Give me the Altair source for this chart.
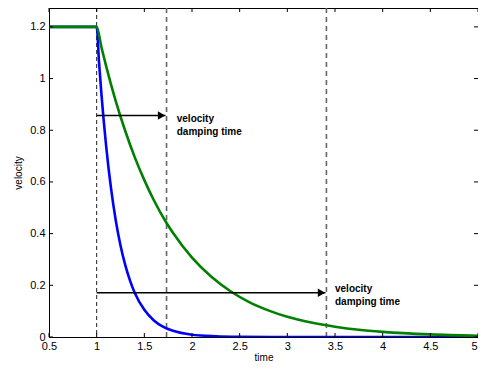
import altair as alt
import pandas as pd

# curve samples
green_t = [0.5, 1.0, 1.05, 1.1, 1.2, 1.3, 1.4, 1.5, 1.6, 1.733, 1.8, 2.0, 2.2, 2.4, 2.6, 2.8, 3.0, 3.25, 3.5, 3.75, 4.0, 4.5, 5.0]
green_v = [1.2, 1.2, 1.121, 1.047, 0.913, 0.797, 0.695, 0.607, 0.529, 0.441, 0.403, 0.307, 0.234, 0.178, 0.135, 0.103, 0.078, 0.056, 0.040, 0.028, 0.020, 0.010, 0.005]
blue_t = [0.5, 1.0, 1.025, 1.05, 1.1, 1.15, 1.2, 1.25, 1.3, 1.35, 1.4, 1.5, 1.6, 1.7, 1.8, 2.0, 2.25, 2.5, 3.0, 4.0, 5.0]
blue_v = [1.2, 1.2, 1.062, 0.940, 0.737, 0.577, 0.452, 0.354, 0.278, 0.218, 0.170, 0.105, 0.064, 0.039, 0.024, 0.009, 0.003, 0.001, 0.0, 0.0, 0.0]

# vertical dashed markers
dash_black_x = [1.0]
dash_grey_x = [1.733, 3.41]

# arrows: start, end, level
arrow_x1 = [1.0, 1.0]
arrow_x2 = [1.722, 3.40]
arrow_y = [0.857, 0.171]

# annotation texts
label_x = [1.84, 3.50]
label_y = [0.843, 0.184]
label_text = [["velocity", "damping time"], ["velocity", "damping time"]]

x_ticks = [0.5, 1, 1.5, 2, 2.5, 3, 3.5, 4, 4.5, 5]
y_ticks = [0, 0.2, 0.4, 0.6, 0.8, 1, 1.2]

W, H = 429, 329
FONT = "Liberation Sans"

green_df = pd.DataFrame({"t": green_t, "v": green_v})
blue_df = pd.DataFrame({"t": blue_t, "v": blue_v})

xs = alt.Scale(domain=[0.5, 5], nice=False, zero=False)
ys = alt.Scale(domain=[0, 1.273], nice=False)

xaxis = alt.Axis(values=x_ticks, tickSize=0, labelFontSize=11, labelFont=FONT, labelColor="#000",
                 labelPadding=3, title="time", titleFontSize=10, titleFont=FONT, titleFontWeight="normal",
                 titleColor="#000", titlePadding=1, domainColor="#000", grid=False, labelFlush=False,
                 format="~g",
                 labelAlign={"condition": {"test": "datum.value >= 5", "value": "right"}, "value": "center"},
                 labelOffset={"condition": {"test": "datum.value >= 5", "value": -1}, "value": 0})
yaxis = alt.Axis(values=y_ticks, tickSize=0, labelFontSize=11, labelFont=FONT, labelColor="#000",
                 labelPadding=4, title="velocity", titleFontSize=10, titleFont=FONT, titleFontWeight="normal",
                 titleColor="#000", titlePadding=6, domainColor="#000", grid=False, labelFlush=False,
                 format="~g")

blue = alt.Chart(blue_df).mark_line(strokeWidth=2.6, interpolate="monotone", color="#0000ff", clip=True).encode(
    x=alt.X("t:Q", scale=xs, axis=xaxis),
    y=alt.Y("v:Q", scale=ys, axis=yaxis),
)
green = alt.Chart(green_df).mark_line(strokeWidth=2.6, interpolate="monotone", color="#008000", clip=True).encode(
    x=alt.X("t:Q", scale=xs),
    y=alt.Y("v:Q", scale=ys),
)

dblack = alt.Chart(pd.DataFrame({"x": dash_black_x})).mark_rule(
    color="#222", strokeWidth=1, strokeDash=[4, 3]).encode(x=alt.X("x:Q", scale=xs))
dgrey = alt.Chart(pd.DataFrame({"x": dash_grey_x})).mark_rule(
    color="#666", strokeWidth=1.6, strokeDash=[5, 4]).encode(x=alt.X("x:Q", scale=xs))

arr_df = pd.DataFrame({"x1": arrow_x1, "x2": arrow_x2, "y": arrow_y})
arr_line = alt.Chart(arr_df).mark_rule(color="#000", strokeWidth=1.6).encode(
    x=alt.X("x1:Q", scale=xs), x2="x2:Q", y=alt.Y("y:Q", scale=ys))
arr_head = alt.Chart(arr_df).mark_point(shape="triangle-right", filled=True, color="#000",
                                        size=70, opacity=1, xOffset=-4).encode(
    x=alt.X("x2:Q", scale=xs), y=alt.Y("y:Q", scale=ys))

txt_df = pd.DataFrame({"x": label_x, "y": label_y, "txt": label_text})
texts = alt.Chart(txt_df).mark_text(align="left", baseline="middle", fontSize=10, fontWeight="bold",
                                    font=FONT, lineHeight=13, color="#000").encode(
    x=alt.X("x:Q", scale=xs), y=alt.Y("y:Q", scale=ys), text="txt")

# inward ticks on all four sides
xt = pd.DataFrame({"x": x_ticks})
yt = pd.DataFrame({"y": y_ticks})
tb = alt.Chart(xt).mark_rule(color="#000").encode(x=alt.X("x:Q", scale=xs), y=alt.value(H), y2=alt.value(H - 4))
tt = alt.Chart(xt).mark_rule(color="#000").encode(x=alt.X("x:Q", scale=xs), y=alt.value(0), y2=alt.value(4))
tl = alt.Chart(yt).mark_rule(color="#000").encode(y=alt.Y("y:Q", scale=ys), x=alt.value(0), x2=alt.value(4))
tr = alt.Chart(yt).mark_rule(color="#000").encode(y=alt.Y("y:Q", scale=ys), x=alt.value(W), x2=alt.value(W - 4))

chart = alt.layer(dblack, dgrey, blue, green, arr_line, arr_head, texts, tb, tt, tl, tr).properties(
    width=W, height=H,
    autosize=alt.AutoSizeParams(type="none"),
    padding={"left": 41, "top": 0, "right": 0, "bottom": 24},
    background="white",
).configure_view(stroke="#000", strokeWidth=1)

chart.save("out.html", embed_options={"renderer": "svg", "actions": False})
